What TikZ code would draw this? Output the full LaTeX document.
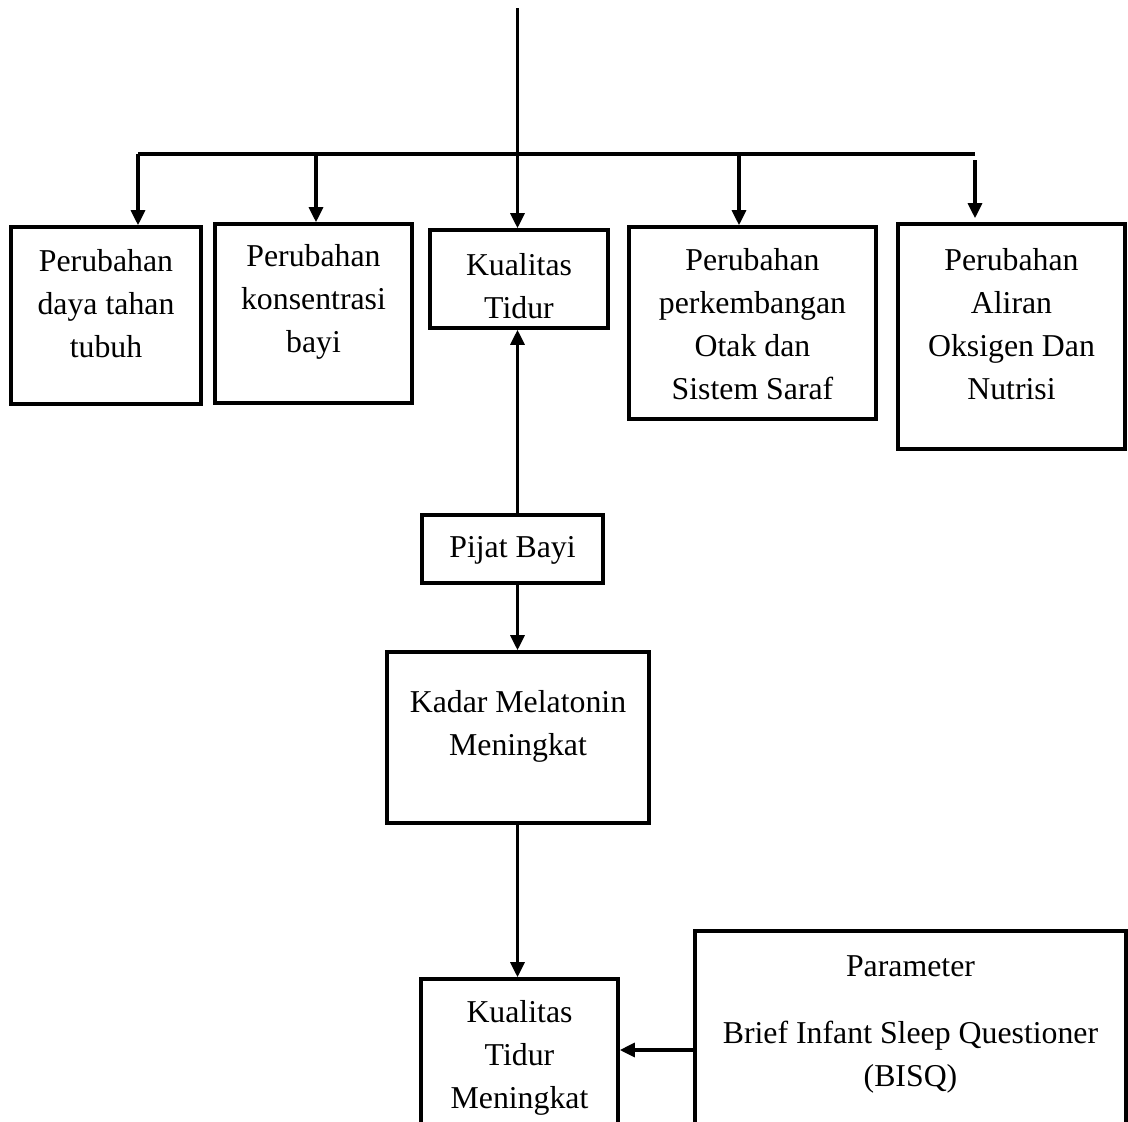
\documentclass[tikz,border=0pt]{standalone}
\usepackage{fontspec}
\setmainfont{Liberation Serif}
\usetikzlibrary{arrows.meta}
\begin{document}
\begin{tikzpicture}[x=1pt,y=-1pt,
  bx/.style={draw,line width=3.6pt,inner sep=0pt},
  txt/.style={align=center,inner sep=0pt,font=\fontsize{31.8}{43}\selectfont},
  ln/.style={line width=3.2pt},
  ar/.style={ln,-{Triangle[length=15pt,width=14pt]}}]
\useasboundingbox[fill=white] (0,0) rectangle (1128,1122);
\begin{scope}
\clip (0,0) rectangle (1128,1122);
% boxes
\node[bx,minimum width=190pt,minimum height=177pt] (b1) at (106,315.5) {};
\node[bx,minimum width=197pt,minimum height=179pt] (b2) at (313.5,313.5) {};
\node[bx,minimum width=178pt,minimum height=98pt] (b3) at (519,279) {};
\node[bx,minimum width=247pt,minimum height=192pt] (b4) at (752.5,323) {};
\node[bx,minimum width=227pt,minimum height=225pt] (b5) at (1011.5,336.5) {};
\node[bx,minimum width=181pt,minimum height=68pt] (pijat) at (512.5,549) {};
\node[bx,minimum width=262pt,minimum height=171pt] (kadar) at (518,737.5) {};
\node[bx,minimum width=197pt,minimum height=151pt] (ktm) at (519.5,1054.5) {};
\node[bx,minimum width=431pt,minimum height=199pt] (param) at (910.5,1030.5) {};
% texts
\node[txt] (t1) at (106,304) {Perubahan\\daya tahan\\tubuh};
\node[txt] (t2) at (313.5,302) {Perubahan\\konsentrasi\\bayi};
\node[txt] (t3) at (519,286) {Kualitas\\Tidur};
\node[txt] (t4) at (752.5,324) {Perubahan\\perkembangan\\Otak dan\\Sistem Saraf};
\node[txt] (t5) at (1011.5,324) {Perubahan\\Aliran\\Oksigen Dan\\Nutrisi};
\node[txt] (t6) at (512.5,550) {Pijat Bayi};
\node[txt] (t7) at (518,726) {Kadar Melatonin\\Meningkat};
\node[txt] (t8) at (519.5,1058) {Kualitas\\Tidur\\Meningkat};
\node[txt] (t9) at (910.5,1024) {Parameter\\[24pt]Brief Infant Sleep Questioner\\(BISQ)};
% coordinates
\coordinate (top) at (517.5,8);
\coordinate (hl) at (138,154);
\coordinate (hr) at (975,154);
\coordinate (h2) at (316,154);
\coordinate (h4) at (739,154);
\coordinate (h5) at (975,160);
% connectors
\draw[ln] (hl) -- (hr);
\draw[ar] (top) -- (top |- b3.north);
\draw[ar] (hl) -- (hl |- b1.north);
\draw[ar] (h2) -- (h2 |- b2.north);
\draw[ar] (h4) -- (h4 |- b4.north);
\draw[ar] (h5) -- ([yshift=4pt]h5 |- b5.north);
\draw[ar] (pijat.north -| top) -- (b3.south -| top);
\draw[ar] (pijat.south -| top) -- (kadar.north -| top);
\draw[ar] (kadar.south -| top) -- (ktm.north -| top);
\draw[ar] (param.west |- 0,1050) -- (ktm.east |- 0,1050);
\end{scope}
\end{tikzpicture}
\end{document}
